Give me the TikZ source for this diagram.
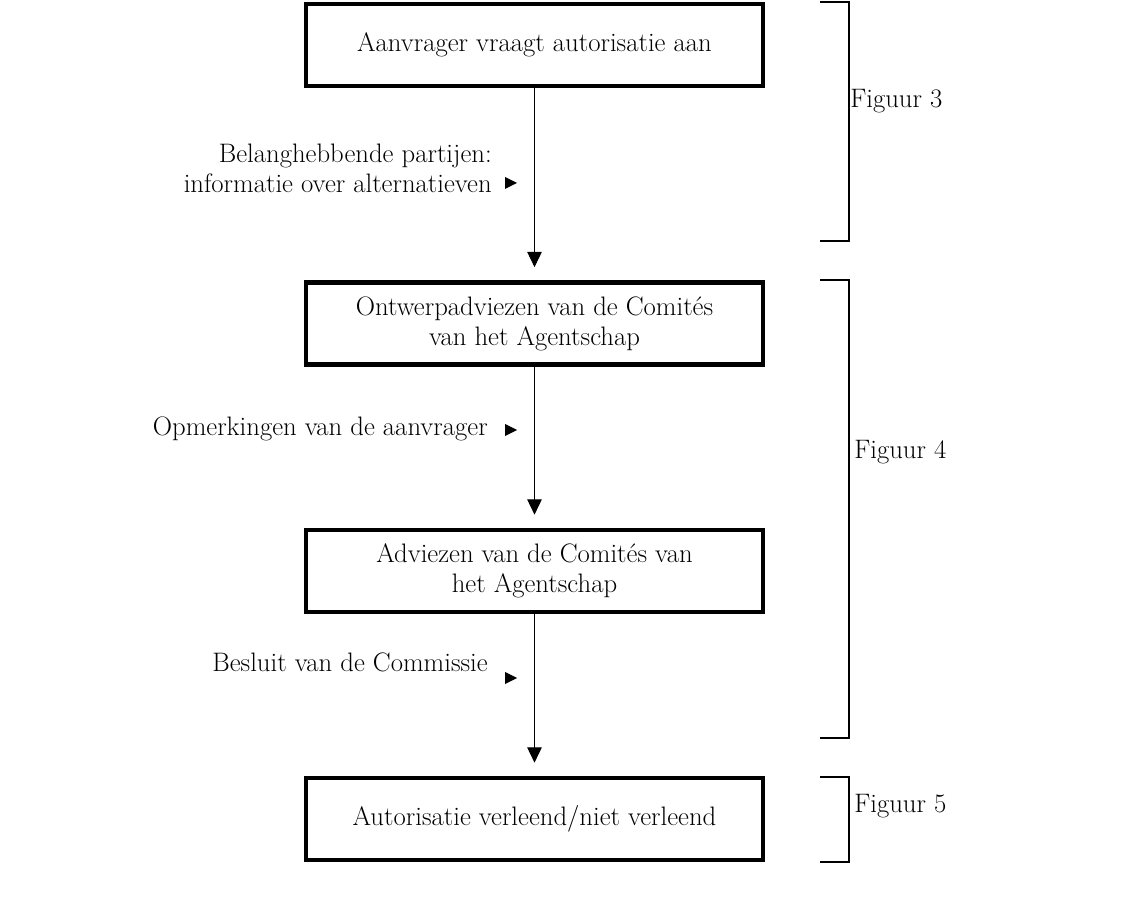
\documentclass[tikz,border=0pt]{standalone}
\usepackage{tikz}
\usetikzlibrary{arrows.meta}

\tikzset{
  stapbox/.style={draw, line width=3pt, minimum width=11.42cm, minimum height=2.05cm, align=center, inner sep=0pt},
  flow/.style={line width=0.7pt, -{Triangle[length=0.38cm,width=0.36cm]}, shorten >=0.33cm},
  haak/.style={line width=0.8pt},
  inbreng/.style={align=right, anchor=east, inner sep=0pt},
  figuur/.style={anchor=west, inner sep=0pt},
  pijl/.pic={\fill (0,-6) -- (12,0) -- (0,6) -- cycle;}
}

\begin{document}
\begin{tikzpicture}[x=0.025cm, y=-0.025cm, font=\fontsize{19}{21.3}\selectfont]
  \useasboundingbox (0,0) rectangle (1138,918);
  % stappen
  \node[stapbox] (aanvraag) at (534.5,45) {Aanvrager vraagt autorisatie aan};
  \node[stapbox] (ontwerp) at (534.5,323.5) {Ontwerpadviezen van de Comit\'es\\van het Agentschap};
  \node[stapbox] (advies) at (534.5,571) {Adviezen van de Comit\'es van\\het Agentschap};
  \node[stapbox] (besluit) at (534.5,819) {Autorisatie verleend/niet verleend};
  \draw[flow] (aanvraag) -- (ontwerp);
  \draw[flow] (ontwerp) -- (advies);
  \draw[flow] (advies) -- (besluit);
  % inbreng van buiten
  \node[inbreng] (partijen) at (492,168) {Belanghebbende partijen:\\informatie over alternatieven};
  \pic at (505,183) {pijl};
  \node[inbreng] (opmerking) at (488,429) {Opmerkingen van de aanvrager};
  \pic at (505,430) {pijl};
  \node[inbreng] (commissie) at (488,662) {Besluit van de Commissie};
  \pic at (505,678) {pijl};
  % haken
  \draw[haak] (820,2) -- (849,2) -- (849,241) -- (820,241);
  \draw[haak] (820,280) -- (849,280) -- (849,738) -- (820,738);
  \draw[haak] (820,777) -- (849,777) -- (849,862) -- (820,862);
  \node[figuur] (fig3) at (850,101) {Figuur 3};
  \node[figuur] (fig4) at (854,452) {Figuur 4};
  \node[figuur] (fig5) at (854,806) {Figuur 5};
\end{tikzpicture}
\end{document}
